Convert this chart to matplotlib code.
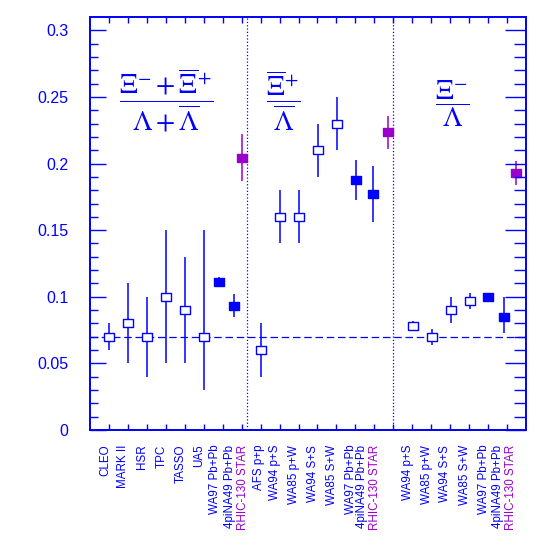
import matplotlib
matplotlib.use("Agg")
import matplotlib.pyplot as plt
import numpy as np

# ratio values per experiment, three panels
labels_all = ["CLEO", "MARK II", "HSR", "TPC", "TASSO", "UA5", "WA97 Pb+Pb", "4piNA49 Pb+Pb", "RHIC-130 STAR",
              "AFS p+p", "WA94 p+S", "WA85 p+W", "WA94 S+S", "WA85 S+W", "WA97 Pb+Pb", "4piNA49 Pb+Pb", "RHIC-130 STAR",
              "WA94 p+S", "WA85 p+W", "WA94 S+S", "WA85 S+W", "WA97 Pb+Pb", "4piNA49 Pb+Pb", "RHIC-130 STAR"]
values = [0.070, 0.080, 0.070, 0.100, 0.090, 0.070, 0.111, 0.093, 0.2045,
          0.060, 0.160, 0.160, 0.210, 0.230, 0.188, 0.177, 0.2235,
          0.078, 0.070, 0.090, 0.097, 0.100, 0.085, 0.193]
err_lo = [0.060, 0.050, 0.040, 0.050, 0.050, 0.030, 0.108, 0.0845, 0.187,
          0.040, 0.140, 0.140, 0.190, 0.210, 0.173, 0.156, 0.211,
          0.0745, 0.064, 0.080, 0.091, 0.0985, 0.0725, 0.184]
err_hi = [0.080, 0.110, 0.100, 0.150, 0.130, 0.150, 0.115, 0.102, 0.222,
          0.080, 0.180, 0.180, 0.230, 0.250, 0.203, 0.198, 0.2355,
          0.082, 0.076, 0.100, 0.103, 0.102, 0.0995, 0.202]
kind = ["open"] * 6 + ["filled", "filled", "star"] + \
       ["open"] * 5 + ["filled", "filled", "star"] + \
       ["open"] * 4 + ["filled", "filled", "star"]

# where things sit along x
point_x = [1, 2, 3, 4, 5, 6, 6.83, 7.62, 8.04,
           9.01, 10.03, 11.03, 12.02, 13.03, 14.03, 14.94, 15.72,
           17.02, 18.02, 19.02, 20.02, 21.0, 21.84, 22.49]
label_x = [0.79, 1.74, 2.76, 3.76, 4.78, 5.76, 6.61, 7.39, 8.09,
           8.9, 9.77, 10.74, 11.75, 12.76, 13.77, 14.36, 15.06,
           16.76, 17.77, 18.75, 19.76, 20.76, 21.51, 22.22]

BLUE = "#0000ff"
PURPLE = "#9900cc"
rect = [(-1, -0.8), (1, -0.8), (1, 0.8), (-1, 0.8), (-1, -0.8)]

plt.rcParams["mathtext.fontset"] = "stix"

fig = plt.figure(figsize=(5.45, 5.45), dpi=100)
ax = fig.add_axes([90/545, 1-430/545, 436/545, 413/545])
ax.set_xlim(0, 23)
ax.set_ylim(0, 0.31)

ax.axhline(0.07, color=BLUE, lw=0.9, ls=(0, (6, 3)))
for xv in [8.3, 16.0]:
    ax.axvline(xv, color=BLUE, lw=0.9, ls=":")

for x, v, lo, hi, k in zip(point_x, values, err_lo, err_hi, kind):
    col = PURPLE if k == "star" else BLUE
    face = "white" if k == "open" else col
    ax.errorbar([x], [v], yerr=[[v - lo], [hi - v]], fmt="none", ecolor=col, elinewidth=1.1, capsize=0, zorder=2)
    ax.plot([x], [v], marker=rect, ms=7, mfc=face, mec=col, mew=1.0, ls="none", zorder=3)

# x labels
tr = ax.get_xaxis_transform()
for lx, name, k in zip(label_x, labels_all, kind):
    ax.text(lx, -0.036, name, transform=tr, rotation=90, ha="center", va="top",
            fontsize=8.4, family="Liberation Sans", color=PURPLE if k == "star" else BLUE)

# ratio formulas
ax.text(4.0, 0.2475, r"$\dfrac{\Xi^{-}+\overline{\Xi}^{+}}{\Lambda+\overline{\Lambda}}$",
        fontsize=20, color=BLUE, ha="center", va="center")
ax.text(10.2, 0.247, r"$\dfrac{\overline{\Xi}^{+}}{\overline{\Lambda}}$",
        fontsize=20, color=BLUE, ha="center", va="center")
ax.text(19.1, 0.245, r"$\dfrac{\Xi^{-}}{\Lambda}$",
        fontsize=20, color=BLUE, ha="center", va="center")

# axes styling
for s in ax.spines.values():
    s.set_color(BLUE)
    s.set_linewidth(1.4)
ax.set_xticks(np.arange(1, 23))
ax.set_xticklabels([])
ax.set_yticks(np.arange(0, 0.301, 0.05))
ax.set_yticks(np.arange(0, 0.31, 0.01), minor=True)
ax.set_yticklabels(["0", "0.05", "0.1", "0.15", "0.2", "0.25", "0.3"])
ax.tick_params(axis="x", which="major", direction="in", length=4.3, width=1, color=BLUE, top=True, bottom=True)
ax.tick_params(axis="y", which="major", direction="in", length=11.5, width=1, color=BLUE,
               labelcolor=BLUE, labelsize=11.5, pad=15.6)
ax.tick_params(axis="y", which="minor", direction="in", length=5.8, width=1, color=BLUE)
for t in ax.get_yticklabels():
    t.set_family("Liberation Sans")

ax2 = ax.twinx()
ax2.set_ylim(ax.get_ylim())
ax2.set_yticks(np.arange(0, 0.301, 0.05))
ax2.set_yticks(np.arange(0, 0.31, 0.01), minor=True)
ax2.set_yticklabels([])
ax2.tick_params(axis="y", which="major", direction="in", length=15, width=1, color=BLUE)
ax2.tick_params(axis="y", which="minor", direction="in", length=9, width=1, color=BLUE)
for s in ax2.spines.values():
    s.set_visible(False)

fig.savefig("out.png", dpi=100)
